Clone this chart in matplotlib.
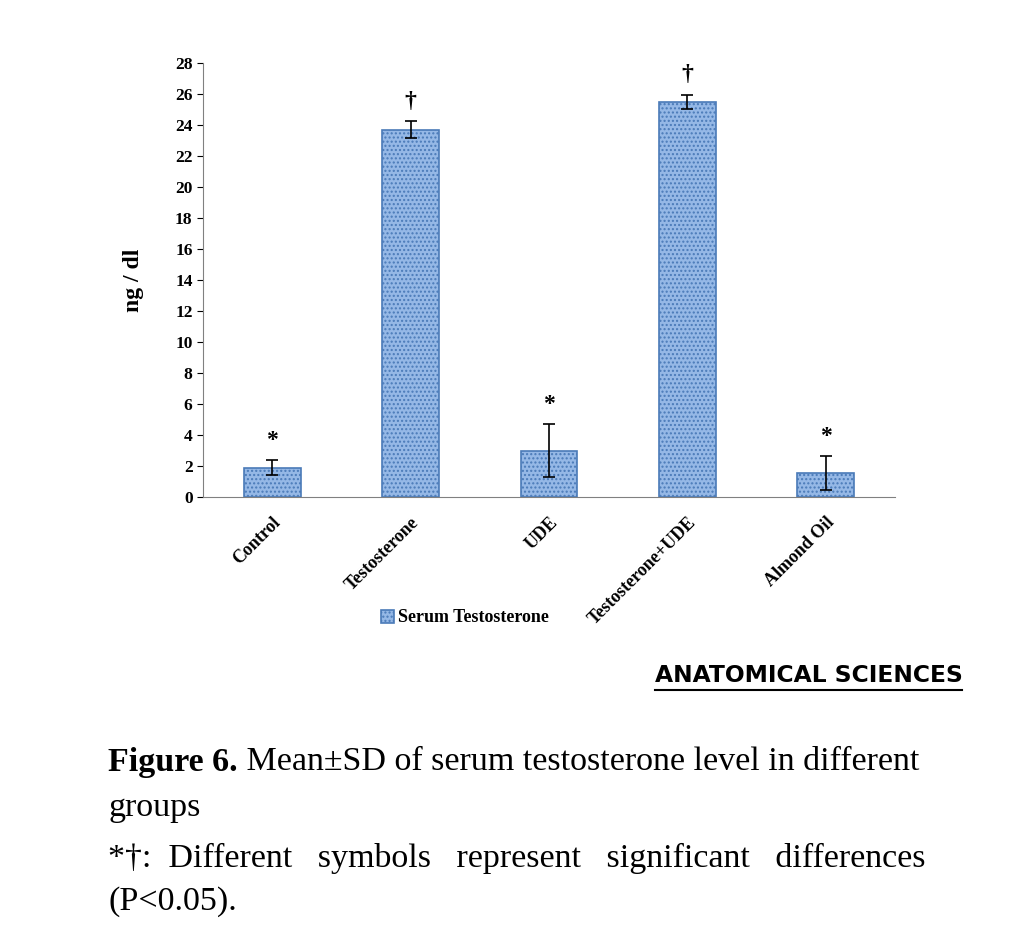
import matplotlib
matplotlib.use("Agg")
import matplotlib.pyplot as plt
from matplotlib.text import Annotation

groups = ["Control", "Testosterone", "UDE", "Testosterone+UDE", "Almond Oil"]
means = [1.9, 23.7, 3.0, 25.5, 1.55]
sds = [0.5, 0.55, 1.7, 0.45, 1.1]
marks = ["*", "†", "*", "†", "*"]
yticks = list(range(0, 29, 2))

plt.rcParams['font.family'] = ['Liberation Serif', 'DejaVu Serif']
fig = plt.figure(figsize=(10.29, 9.48), dpi=100)
ax = fig.add_axes([203/1029, 1-497/948, 692/1029, 434/948])
x = range(len(groups))
bars = ax.bar(x, means, width=0.41, color="#95b8e6", edgecolor="#4a7ab8", linewidth=1.2,
              hatch="....", label="Serum Testosterone")
ax.errorbar(x, means, yerr=sds, fmt="none", ecolor="black", elinewidth=1.2, capsize=4, capthick=1.2)
for i, (m, s, t) in enumerate(zip(means, sds, marks)):
    ax.text(i, m + s + 0.6, t, ha="center", va="bottom", fontsize=17, fontweight="bold")
ax.set_xlim(-0.5, 4.5)
ax.set_ylim(0, 28)
ax.set_yticks(yticks)
ax.set_yticklabels([str(v) for v in yticks], fontsize=12.5, fontweight="bold")
ax.set_xticks(list(x))
ax.set_xticklabels(groups, rotation=45, ha="right", rotation_mode="anchor", fontsize=13, fontweight="bold")
ax.tick_params(axis="x", length=0, pad=12)
ax.tick_params(axis="y", length=4, direction="out")
for s in ["top", "right"]:
    ax.spines[s].set_visible(False)
ax.spines["left"].set_color("#808080")
ax.spines["bottom"].set_color("#808080")
ax.set_ylabel("ng / dl", fontsize=17, fontweight="bold", labelpad=22)
fig.legend(handles=[bars], labels=["Serum Testosterone"], loc="center", bbox_to_anchor=(465/1029, 1-618/948),
           frameon=False, prop={"weight": "bold", "size": 13}, handlelength=0.7, handleheight=0.7, handletextpad=0.2)

fig.text(655/1029, 1-676/948, "ANATOMICAL SCIENCES", fontsize=16.8, fontweight="bold",
         family=["DejaVu Sans"], va="center", ha="left")
fig.add_artist(plt.Line2D([655/1029, 962/1029], [1-690/948, 1-690/948], color="black", lw=1.5))
fs = 24.5
t1 = fig.text(108/1029, 1-762/948, "Figure 6.", fontsize=fs, fontweight="bold", va="center")
fig.add_artist(Annotation(" Mean±SD of serum testosterone level in different",
               xy=(1, 0.5), xycoords=t1, va="center", ha="left", fontsize=fs))
fig.text(108/1029, 1-808/948, "groups", fontsize=fs, va="center")
fig.text(108/1029, 1-858/948, "*†:  Different   symbols   represent   significant   differences", fontsize=fs, va="center")
fig.text(108/1029, 1-902/948, "(P<0.05).", fontsize=fs, va="center")
fig.savefig("out.png", dpi=100, facecolor="white")
